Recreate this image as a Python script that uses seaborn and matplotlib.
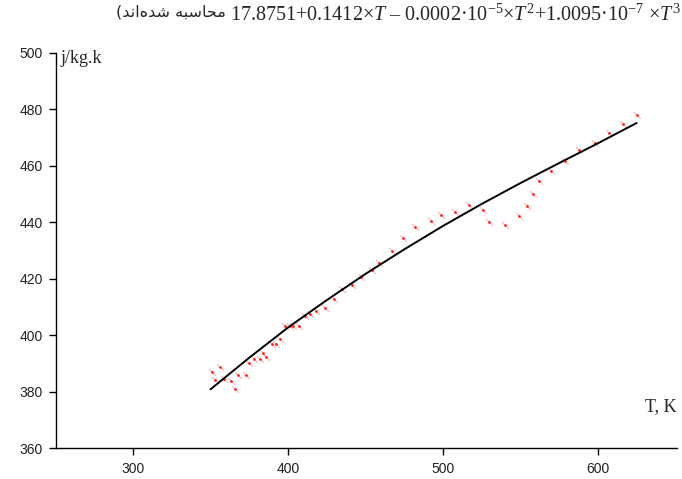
import numpy as np
import pandas as pd
import matplotlib
matplotlib.use("Agg")
import matplotlib.pyplot as plt
import seaborn as sns

# measured points (T in K, cp in j/kg.k)
meas_T = [351, 353, 356, 359, 363, 366, 368, 373, 375, 378,
          382, 384, 386, 390, 392, 395, 398, 401, 403, 407,
          411, 414, 418, 424, 430, 435, 441, 447, 454, 459,
          467, 474, 482, 492, 499, 508, 517, 526, 530, 540,
          549, 554, 558, 562, 570, 579, 588, 598, 607, 616, 625]
meas_cp = [386.8, 384.0, 388.6, 384.6, 383.8, 381.0, 386.0, 386.0, 390.3, 391.5,
           391.5, 393.6, 392.4, 397.0, 397.0, 398.6, 403.1, 403.1, 403.1, 403.1,
           406.9, 407.5, 408.7, 409.6, 412.8, 416.4, 417.6, 420.5, 423.1, 425.5,
           429.7, 434.5, 438.5, 440.5, 442.7, 443.6, 446.2, 444.5, 440.0, 439.2,
           442.4, 445.6, 449.9, 454.6, 458.2, 461.6, 465.5, 468.1, 471.5, 475.0, 478.0]

# fitted curve
fit_T = [350, 375, 400, 425, 450, 475, 500, 525, 550, 575, 600, 625]
fit_cp = [380.8, 392.0, 402.7, 412.4, 421.7, 430.4, 438.7, 446.5, 453.9, 461.0, 468.0, 475.2]

x_ticks = [300, 400, 500, 600]
y_ticks = [360, 380, 400, 420, 440, 460, 480, 500]

title_math = r"17.8751+0.1412×$T$ – 0.0002·10$^{-5}$×$T^2$+1.0095·10$^{-7}$ ×$T^3$"
# Persian "(محاسبه شده‌اند)" in shaped presentation forms, visual order
title_fa = "(\uFEAA\uFEE7\uFE8D\uFEE9\uFEAA\uFEB7 \uFEEA\uFE92\uFEB3\uFE8E\uFEA4\uFEE3"
y_label = "j/kg.k"
x_label = "T, K"

sns.set_theme(style="white")
plt.rcParams["font.family"] = ["Liberation Sans", "DejaVu Sans"]
plt.rcParams["mathtext.fontset"] = "custom"
plt.rcParams["mathtext.rm"] = "Liberation Serif"
plt.rcParams["mathtext.it"] = "Liberation Serif:italic"

fig = plt.figure(figsize=(6.82, 4.79), dpi=100)
ax = fig.add_axes([0.0814, 0.0647, 0.9113, 0.8247])

meas = pd.DataFrame({"T": meas_T, "cp": meas_cp})
fit = pd.DataFrame({"T": fit_T, "cp": fit_cp})

# faint pink tick marks around each measured point
ax.scatter(meas["T"], meas["cp"], marker=(2, 0, 45), s=50, linewidths=0.9,
           color="#ff8a8a", alpha=0.6, zorder=2)
sns.scatterplot(data=meas, x="T", y="cp", ax=ax, color="#ff2020", s=4,
                linewidth=0, zorder=3)
sns.lineplot(data=fit, x="T", y="cp", ax=ax, color="black", linewidth=1.4,
             zorder=4, sort=True)

ax.set_xlim(250, 651)
ax.set_ylim(360, 500)
ax.set_xticks(x_ticks)
ax.set_yticks(y_ticks)
ax.set_xlabel("")
ax.set_ylabel("")
for s in ["top", "right"]:
    ax.spines[s].set_visible(False)
for s in ["left", "bottom"]:
    ax.spines[s].set_color("black")
    ax.spines[s].set_linewidth(1.0)
ax.tick_params(axis="both", which="major", bottom=True, left=True,
               direction="out", length=5, width=1, color="black",
               labelsize=10, labelcolor="#222222", pad=4)
ax.tick_params(axis="x", pad=5)

ax.text(0.008, 0.985, y_label, transform=ax.transAxes, ha="left", va="center",
        fontsize=13, family="Liberation Serif")
ax.text(0.999, 0.105, x_label, transform=ax.transAxes, ha="right", va="center",
        fontsize=13, family="Liberation Serif")

t1 = fig.text(0.999, 0.99, title_math, ha="right", va="top", fontsize=14.5,
              family="Liberation Serif")
fig.canvas.draw()
bb = t1.get_window_extent()
x_fa = (bb.x0 - 5) / fig.bbox.width
fig.text(x_fa, 0.99, title_fa, ha="right", va="top", fontsize=11.5,
         family=["DejaVu Sans"])

fig.savefig("out.png", dpi=100)
